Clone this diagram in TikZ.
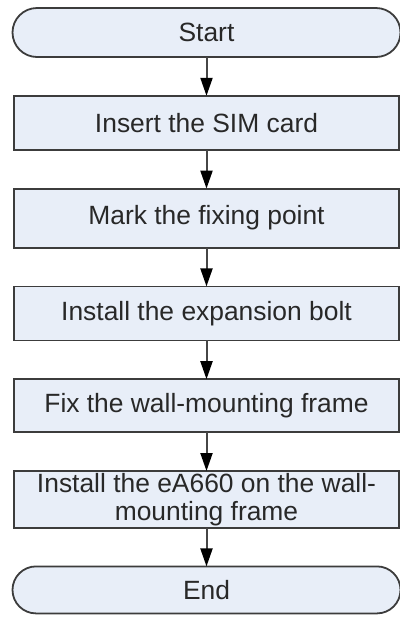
\documentclass[tikz,border=0pt]{standalone}
\usepackage{fontspec}
\setmainfont{Liberation Sans}
\usepackage{tikz}
\usetikzlibrary{positioning,arrows.meta}

\definecolor{boxfill}{RGB}{232,238,248}
\definecolor{boxline}{RGB}{60,60,60}
\definecolor{flowline}{RGB}{70,70,70}
\definecolor{txtgray}{RGB}{40,40,40}

\begin{document}
\begin{tikzpicture}[
node distance=19.4pt,
every node/.style={
    draw=boxline,
    fill=boxfill,
    line width=0.9pt,
    text=txtgray,
    inner sep=1pt,
    outer sep=0pt,
    align=center,
    font=\fontsize{13.2}{14}\selectfont
},
terminal/.style={
    rounded corners=11.75pt,
    minimum width=194pt,
    minimum height=23.5pt
},
stepbox/.style={
    minimum width=192.5pt,
    minimum height=27pt
},
>={Triangle[length=9pt,width=6pt,color=black]}
]

\useasboundingbox (0,0) rectangle (200pt,-308.5pt);

\node[terminal,minimum height=24.5pt,rounded corners=12.25pt] (start) at (103.25pt,-16.25pt) {Start};

\node[stepbox] (sim) [below=of start]
{Insert the SIM card};

\node[stepbox,minimum height=29.5pt] (mark) [below=of sim]
{Mark the fixing point};

\node[stepbox] (bolt) [below=of mark]
{Install the expansion bolt};

\node[stepbox,minimum height=26.5pt] (frame) [below=of bolt]
{Fix the wall-mounting frame};

\node[stepbox] (mount) [below=of frame]
{Install the eA660 on the wall-\\mounting frame};

\node[terminal] (end) [below=of mount] {End};

\draw[->,flowline,line width=1pt] (start)--(sim);
\draw[->,flowline,line width=1pt] (sim)--(mark);
\draw[->,flowline,line width=1pt] (mark)--(bolt);
\draw[->,flowline,line width=1pt] (bolt)--(frame);
\draw[->,flowline,line width=1pt] (frame)--(mount);
\draw[->,flowline,line width=1pt] (mount)--(end);

\end{tikzpicture}
\end{document}
